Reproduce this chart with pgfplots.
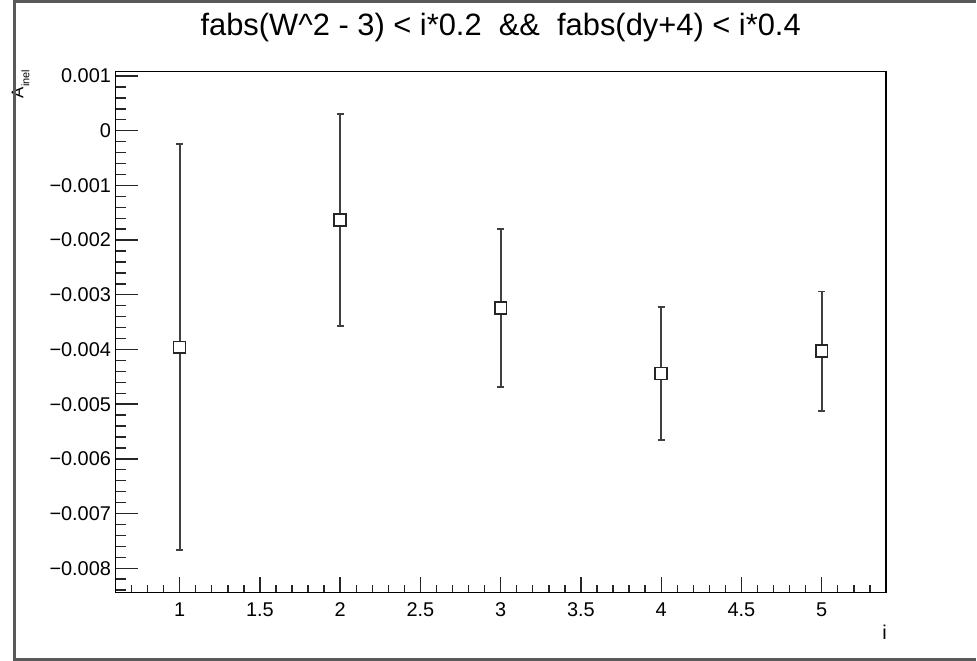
\documentclass[border=0pt]{standalone}
\usepackage{fontspec}
\setmainfont{Liberation Sans}
\usepackage{pgfplots}
\pgfplotsset{compat=1.18}
\begin{document}
\begin{tikzpicture}
\path (0pt,0pt) rectangle (977pt,664pt);
\begin{axis}[
  at={(116pt,69pt)}, anchor=south west,
  scale only axis, width=774pt, height=523pt,
  xmin=0.6, xmax=5.4, ymin=-0.00844, ymax=0.00108,
  axis line style={line width=1.4pt, black},
  tick align=inside, xtick pos=bottom, ytick pos=left,
  xtick={1,1.5,2,2.5,3,3.5,4,4.5,5},
  xticklabels={1,1.5,2,2.5,3,3.5,4,4.5,5},
  minor xtick={0.7,0.8,0.9,1.1,1.2,1.3,1.4,1.6,1.7,1.8,1.9,2.1,2.2,2.3,2.4,2.6,2.7,2.8,2.9,3.1,3.2,3.3,3.4,3.6,3.7,3.8,3.9,4.1,4.2,4.3,4.4,4.6,4.7,4.8,4.9,5.1,5.2,5.3},
  ytick={-0.008,-0.007,-0.006,-0.005,-0.004,-0.003,-0.002,-0.001,0,0.001},
  yticklabels={−0.008,−0.007,−0.006,−0.005,−0.004,−0.003,−0.002,−0.001,0,0.001},
  minor ytick={-0.0084,-0.0082,-0.0078,-0.0076,-0.0074,-0.0072,-0.0068,-0.0066,-0.0064,-0.0062,-0.0058,-0.0056,-0.0054,-0.0052,-0.0048,-0.0046,-0.0044,-0.0042,-0.0038,-0.0036,-0.0034,-0.0032,-0.0028,-0.0026,-0.0024,-0.0022,-0.0018,-0.0016,-0.0014,-0.0012,-0.0008,-0.0006,-0.0004,-0.0002,0.0002,0.0004,0.0006,0.0008},
  scaled y ticks=false, scaled x ticks=false,
  xtick style={line width=1.4pt, black!85, /pgfplots/major tick length=15pt, /pgfplots/minor tick length=7pt},
  ytick style={line width=1.4pt, black!85, /pgfplots/major tick length=23pt, /pgfplots/minor tick length=11pt},
  minor tick style={line width=1.4pt, black!85},
  ticklabel style={font=\fontsize{20}{22}\selectfont},
  xticklabel style={yshift=-7pt},
  yticklabel style={xshift=-1pt},
  /pgf/number format/assume math mode=true,
]
\addplot[
  only marks, mark=square*, mark size=6pt,
  mark options={fill=white, draw=black!85, line width=1.6pt},
  error bars/.cd, y dir=both, y explicit,
  error mark=|, error mark options={line width=1.8pt, mark size=3.5pt, black!75},
  error bar style={line width=1.8pt, black!75}
] coordinates {
  (1,-0.00396) +- (0,0.00371)
  (2,-0.00163) +- (0,0.00194)
  (3,-0.00324) +- (0,0.00144)
  (4,-0.00444) +- (0,0.00122)
  (5,-0.00403) +- (0,0.00109)
};
\end{axis}
\node[anchor=base, font=\fontsize{31}{34}\selectfont] at (503pt,628pt) {fabs(W\^{}2 - 3) < i*0.2 \ \&\& \ fabs(dy+4) < i*0.4};
\node[rotate=90, anchor=base east, inner sep=0pt, font=\fontsize{17}{18}\selectfont] at (23.5pt,594pt) {A\raisebox{-0.35em}{\fontsize{11}{11}\selectfont inel}};
\node[anchor=base east, inner sep=0pt, font=\fontsize{20}{22}\selectfont] at (891pt,22pt) {i};
\draw[line width=3pt, black!65] (980pt,662.5pt) -- (14.5pt,662.5pt) -- (14.5pt,1.5pt) -- (980pt,1.5pt);
\path[use as bounding box] (0pt,0pt) rectangle (977pt,664pt);
\end{tikzpicture}
\end{document}
